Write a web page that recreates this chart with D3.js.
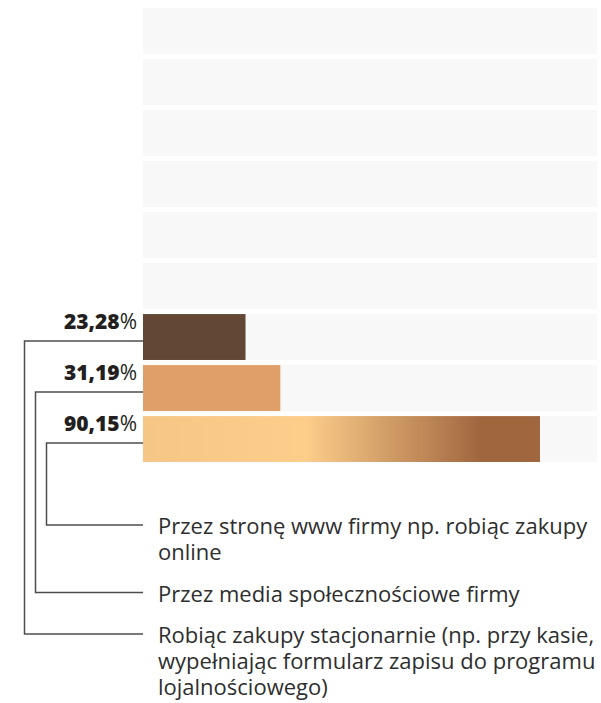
<!DOCTYPE html>
<html>
<head>
<meta charset="utf-8">
<script src="https://cdn.jsdelivr.net/npm/d3@7"></script>
<style>
  html, body { margin: 0; padding: 0; background: #fff; }
  svg { display: block; }
  text { font-family: "Open Sans", sans-serif; }
</style>
</head>
<body>
<svg id="chart" width="601" height="703"></svg>
<script>
// Row slots: six empty tracks, then the three answered options
const slots = ["r1", "r2", "r3", "r4", "r5", "r6", "a", "b", "c"];
const barSlots = ["a", "b", "c"];
const values = [23.28, 31.19, 90.15];
const valueLabels = ["23,28", "31,19", "90,15"];
const categories = [
  "Robiąc zakupy stacjonarnie (np. przy kasie, wypełniając formularz zapisu do programu lojalnościowego)",
  "Przez media społecznościowe firmy",
  "Przez stronę www firmy np. robiąc zakupy online"
];
const colors = ["#614734", "#e09e68", "url(#warmGrad)"];
const xMax = 103.1;

const svg = d3.select("#chart");

const x = d3.scaleLinear().domain([0, xMax]).range([143, 597]);
const y = d3.scaleBand().domain(slots).range([8, 462]).paddingInner(0.1).paddingOuter(0);

// gradient for the longest bar
const defs = svg.append("defs");
const grad = defs.append("linearGradient").attr("id", "warmGrad")
  .attr("x1", "0%").attr("x2", "100%").attr("y1", "0%").attr("y2", "0%");
[[0, "#f6c686"], [0.41, "#fdcd8a"], [0.85, "#a0673f"], [1, "#a0673f"]].forEach(([o, c]) =>
  grad.append("stop").attr("offset", o).attr("stop-color", c));

// background tracks
svg.append("g").selectAll("rect").data(slots).join("rect")
  .attr("x", x(0)).attr("y", d => y(d))
  .attr("width", x(xMax) - x(0)).attr("height", y.bandwidth())
  .attr("fill", "#f8f8f8");

// legend layout (bottom, listed in reverse bar order)
const legendX = 158, lineH = 26, gap = 15.5;
const legendOrder = [2, 1, 0];
const legendG = svg.append("g");
let cursor = 525;
const legendY = [];
legendOrder.forEach(i => {
  legendY[i] = cursor;
  const t = legendG.append("text")
    .attr("x", legendX).attr("y", cursor + 9)
    .attr("font-size", 22).attr("fill", "#2e2e2e");
  // wrap words to the available width
  const words = categories[i].split(" ");
  let line = [], lineNo = 0;
  let tspan = t.append("tspan").attr("x", legendX).attr("dy", 0);
  words.forEach(w => {
    line.push(w);
    tspan.text(line.join(" "));
    if (tspan.node().getComputedTextLength() > 440 && line.length > 1) {
      line.pop();
      tspan.text(line.join(" "));
      line = [w];
      lineNo++;
      tspan = t.append("tspan").attr("x", legendX).attr("dy", lineH).text(w);
    }
  });
  cursor += (lineNo + 1) * lineH + gap;
});

// connectors from each bar to its legend entry
const elbowX = [24.5, 35.5, 46.5];
svg.append("g").selectAll("path").data(values).join("path")
  .attr("d", (d, i) => {
    const y0 = y(barSlots[i]) + 27;
    return `M${x(0)},${y0}H${elbowX[i]}V${legendY[i]}H${x(0)}`;
  })
  .attr("fill", "none").attr("stroke", "#4d4d4d").attr("stroke-width", 1.5);

// bars
svg.append("g").selectAll("rect").data(values).join("rect")
  .attr("x", x(0)).attr("y", (d, i) => y(barSlots[i]))
  .attr("width", d => x(d) - x(0)).attr("height", y.bandwidth())
  .attr("fill", (d, i) => colors[i]);

// value labels
const lab = svg.append("g").selectAll("text").data(values).join("text")
  .attr("x", 137).attr("y", (d, i) => y(barSlots[i]) + 14.5)
  .attr("text-anchor", "end").attr("font-size", 21).attr("fill", "#231f20");
lab.append("tspan").attr("font-weight", 800).text((d, i) => valueLabels[i]);
lab.append("tspan").attr("font-weight", 400).text("%");
</script>
</body>
</html>
